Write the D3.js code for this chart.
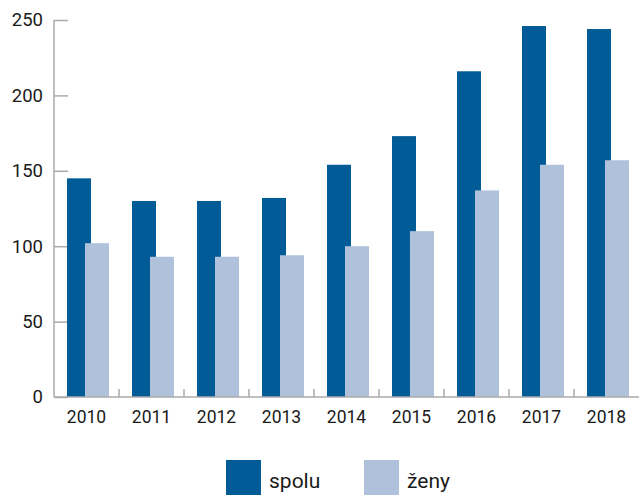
<html>
<head>
  <script src="https://cdnjs.cloudflare.com/ajax/libs/d3/7.8.5/d3.min.js"></script>
  <style>
    body { margin: 0; background: #fff; }
    text { font-family: Roboto, "DejaVu Sans", sans-serif; fill: #1a1a1a; }
  </style>
</head>
<body>
<script>
  // data
  var years = ["2010", "2011", "2012", "2013", "2014", "2015", "2016", "2017", "2018"];
  var spolu = [145, 130, 130, 132, 154, 173, 216, 246, 244];
  var zeny  = [102, 93, 93, 94, 100, 110, 137, 154, 157];
  var seriesNames = ["spolu", "ženy"];
  var colors = ["#005b97", "#afc1db"];
  var yTicks = [0, 50, 100, 150, 200, 250];

  var width = 639, height = 495;
  // plot edges (note: "top" is taken by window.top)
  var plotLeft = 54, plotRight = 639, plotTop = 20, plotBottom = 397;

  var svg = d3.select("body").append("svg")
    .attr("width", width)
    .attr("height", height);

  var x = d3.scaleBand().domain(years).range([plotLeft, plotRight]);
  var y = d3.scaleLinear().domain([0, 250]).range([plotBottom, plotTop]);

  // y axis
  var yAxis = svg.append("g")
    .attr("transform", "translate(" + plotLeft + ",0)")
    .call(d3.axisRight(y).tickValues(yTicks).tickSize(14).tickFormat(d3.format("d")));
  yAxis.select(".domain").remove();
  yAxis.selectAll("line").attr("stroke", "#aaa").attr("stroke-width", 1.5);
  yAxis.selectAll("text").attr("x", -11).attr("text-anchor", "end")
    .style("font-size", "18.5px").attr("fill", "#1a1a1a");
  svg.append("line")
    .attr("x1", plotLeft).attr("x2", plotLeft).attr("y1", y(250)).attr("y2", y(0))
    .attr("stroke", "#aaa").attr("stroke-width", 1.5);

  // bars
  var bw = 24;
  years.forEach(function (yr, i) {
    var x0 = x(yr) + 13;
    svg.append("rect")
      .attr("x", x0).attr("width", bw)
      .attr("y", y(spolu[i])).attr("height", y(0) - y(spolu[i]))
      .attr("fill", colors[0]);
    svg.append("rect")
      .attr("x", x0 + 18).attr("width", bw)
      .attr("y", y(zeny[i])).attr("height", y(0) - y(zeny[i]))
      .attr("fill", colors[1]);
  });

  // x axis
  svg.append("line")
    .attr("x1", plotLeft).attr("x2", plotRight).attr("y1", plotBottom).attr("y2", plotBottom)
    .attr("stroke", "#aaa").attr("stroke-width", 1.5);
  svg.selectAll(".sep")
    .data(years.slice(1))
    .enter().append("line")
    .attr("x1", function (d) { return x(d); })
    .attr("x2", function (d) { return x(d); })
    .attr("y1", plotBottom - 8).attr("y2", plotBottom)
    .attr("stroke", "#aaa").attr("stroke-width", 1.5);
  svg.selectAll(".yr")
    .data(years)
    .enter().append("text")
    .attr("x", function (d) { return x(d) + x.bandwidth() / 2; })
    .attr("y", 423)
    .attr("text-anchor", "middle")
    .style("font-size", "17.5px")
    .text(function (d) { return d; });

  // legend
  var legendX = [226, 364];
  seriesNames.forEach(function (name, i) {
    svg.append("rect")
      .attr("x", legendX[i]).attr("y", 460)
      .attr("width", 35).attr("height", 35)
      .attr("fill", colors[i]);
    svg.append("text")
      .attr("x", legendX[i] + 43).attr("y", 488)
      .style("font-size", "21px")
      .text(name);
  });
</script>
</body>
</html>
